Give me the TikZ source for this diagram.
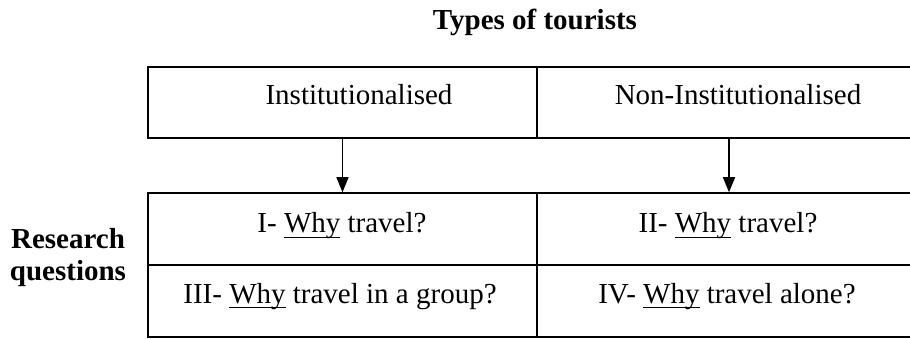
\documentclass[tikz,border=0pt]{standalone}
\usepackage{fontspec}
\setmainfont{Liberation Serif}
\usetikzlibrary{arrows.meta}
\newcommand{\whyul}[1]{\underline{\raisebox{0pt}[\height][3pt]{#1}}}
\begin{document}
\begin{tikzpicture}
        [x=1pt, y=-1pt,
        cell/.style ={draw, line width=1.5pt, inner sep=0pt, minimum height=72pt},
        txt/.style ={anchor=base, font=\fontsize{29}{32}\selectfont},
        arr/.style ={-{Triangle[length=15pt, width=12pt]}, line width=1.4pt}]
        \useasboundingbox (0,0) rectangle (910,339);
        % cells of the two boxes
        \node[cell, minimum width=389pt, minimum height=71pt] (inst) at (342.5,102.5){};
        \node[cell, minimum width=375pt, minimum height=71pt] (noninst) at (724.5,102.5){};
        \node[cell, minimum width=389pt] (q1) at (342.5,229){};
        \node[cell, minimum width=375pt] (q2) at (724.5,229){};
        \node[cell, minimum width=389pt] (q3) at (342.5,301){};
        \node[cell, minimum width=375pt] (q4) at (724.5,301){};
        % texts
        \node[txt, font=\fontsize{29}{32}\selectfont\bfseries] (title) at (535,30){Types of tourists};
        \node[txt, font=\fontsize{29}{32}\selectfont\bfseries, align=center] (resq) at (68,280){Research\\questions};
        \node[txt] (insttxt) at (359,105){Institutionalised};
        \node[txt] (noninsttxt) at (738,105){Non-Institutionalised};
        \node[txt] (q1txt) at (342,233){I- \whyul{Why} travel?};
        \node[txt] (q2txt) at (728,233){II- \whyul{Why} travel?};
        \node[txt] (q3txt) at (340,303){III- \whyul{Why} travel in a group?};
        \node[txt] (q4txt) at (727,303){IV- \whyul{Why} travel alone?};
        \draw[arr] (inst.south) to (q1.north);
        \draw[arr] ([xshift=4.5pt]noninst.south) to ([xshift=4.5pt]q2.north);
    \end{tikzpicture}
\end{document}
